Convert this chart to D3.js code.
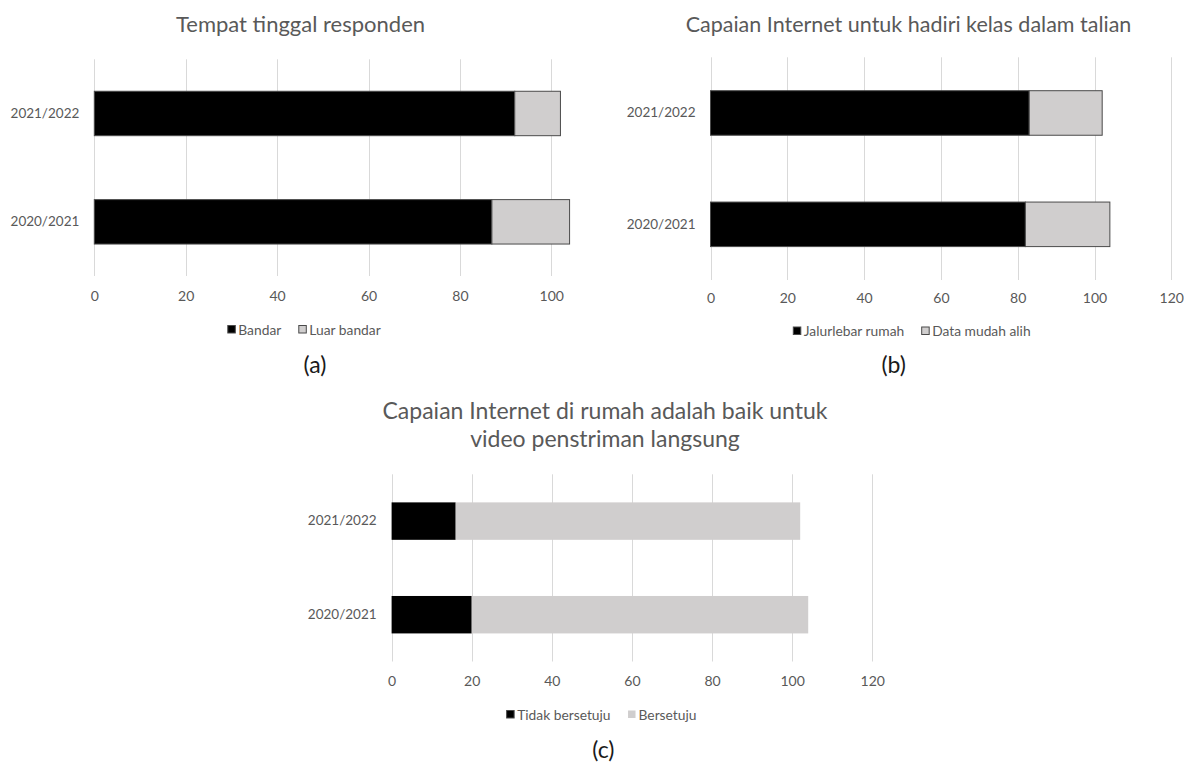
<!DOCTYPE html>
<html>
<head>
<meta charset="utf-8">
<script src="https://cdn.jsdelivr.net/npm/d3@7"></script>
<style>
  html, body { margin: 0; padding: 0; background: #fff; }
  svg { display: block; font-family: Lato, "Open Sans", sans-serif; }
</style>
</head>
<body>
<svg id="chart" width="1184" height="762"></svg>
<script>
// ---------------- data ----------------
const categories = ["2021/2022", "2020/2021"];

const titleA = ["Tempat tinggal responden"];
const seriesNamesA = ["Bandar", "Luar bandar"];
const bandar = [92, 87];
const luarBandar = [10, 17];
const ticksA = [0, 20, 40, 60, 80, 100];

const titleB = ["Capaian Internet untuk hadiri kelas dalam talian"];
const seriesNamesB = ["Jalurlebar rumah", "Data mudah alih"];
const jalurlebarRumah = [83, 82];
const dataMudahAlih = [19, 22];
const ticksB = [0, 20, 40, 60, 80, 100, 120];

const titleC = ["Capaian Internet di rumah adalah baik untuk", "video penstriman langsung"];
const seriesNamesC = ["Tidak bersetuju", "Bersetuju"];
const tidakBersetuju = [16, 20];
const bersetuju = [86, 84];
const ticksC = [0, 20, 40, 60, 80, 100, 120];

const captions = ["(a)", "(b)", "(c)"];

// ---------------- styles ----------------
const TEXT = "#595959";
const GRID = "#d9d9d9";
const FILLS = ["#000000", "#d0cece"];

const svg = d3.select("#chart");

function drawPanel(cfg) {
  const g = svg.append("g");
  const rows = categories.map((c, i) => ({ cat: c, s0: cfg.s0[i], s1: cfg.s1[i] }));
  const stacked = d3.stack().keys(["s0", "s1"])(rows);

  const x = d3.scaleLinear().domain([0, cfg.xMax]).range([cfg.xr0, cfg.xr1]);
  const y = d3.scaleBand().domain(categories).range([cfg.yr0, cfg.yr1])
    .paddingInner(cfg.padIn).paddingOuter(cfg.padOut);

  // title
  const t = g.append("text")
    .attr("text-anchor", "middle")
    .attr("fill", TEXT)
    .style("font-size", cfg.titleSize + "px");
  cfg.title.forEach((line, i) => {
    t.append("tspan").attr("x", cfg.titleX).attr("y", cfg.titleY + i * cfg.titleLH).text(line);
  });

  // gridlines
  g.append("g").selectAll("line").data(cfg.ticks).join("line")
    .attr("x1", d => Math.round(x(d)) + 0.5).attr("x2", d => Math.round(x(d)) + 0.5)
    .attr("y1", cfg.yr0).attr("y2", cfg.yr1)
    .attr("stroke", GRID).attr("stroke-width", 1);

  // x axis tick labels
  const xAxis = d3.axisBottom(x).tickValues(cfg.ticks).tickSize(0).tickPadding(0).tickFormat(d3.format("d"));
  const ax = g.append("g").attr("transform", `translate(0,${cfg.tickY})`).call(xAxis);
  ax.select(".domain").remove();
  ax.selectAll("text").attr("fill", TEXT).attr("dy", "0.35em").attr("y", 0)
    .style("font-size", "14px").style("font-family", "Lato, 'Open Sans', sans-serif");

  // y axis labels
  const yAxis = d3.axisLeft(y).tickSize(0).tickPadding(cfg.yPad);
  const ay = g.append("g").attr("transform", `translate(${cfg.xr0},0)`).call(yAxis);
  ay.select(".domain").remove();
  ay.selectAll("text").attr("fill", TEXT)
    .style("font-size", "13.5px").style("font-family", "Lato, 'Open Sans', sans-serif");

  // bars
  g.append("g").selectAll("g").data(stacked).join("g")
    .attr("fill", (d, i) => FILLS[i])
    .selectAll("rect").data(d => d).join("rect")
    .attr("x", d => x(d[0]))
    .attr("y", d => y(d.data.cat))
    .attr("width", d => x(d[1]) - x(d[0]))
    .attr("height", y.bandwidth())
    .attr("stroke", cfg.outline ? "#4a4a4a" : "none")
    .attr("stroke-width", cfg.outline ? 1 : 0);

  // legend
  const lg = g.append("g");
  let cx = 0;
  cfg.names.forEach((name, i) => {
    const it = lg.append("g").attr("transform", `translate(${cx},0)`);
    const sq = it.append("rect").attr("x", 0.5).attr("y", -4.5).attr("width", 7.5).attr("height", 7.5)
      .attr("fill", FILLS[i]);
    if (cfg.outline || i === 0) sq.attr("stroke", "#4a4a4a").attr("stroke-width", 1);
    const tx = it.append("text").attr("x", 11).attr("y", 0).attr("dy", "0.35em")
      .attr("fill", TEXT).style("font-size", "13.8px").text(name);
    const w = 11 + tx.node().getComputedTextLength();
    cx += w + 17;
  });
  const total = cx - 17;
  lg.attr("transform", `translate(${cfg.legendCX - total / 2},${cfg.legendY})`);

  // caption
  g.append("text").attr("x", cfg.capX).attr("y", cfg.capY).attr("dy", "0.35em")
    .attr("text-anchor", "middle").attr("fill", "#1a1a1a")
    .style("font-size", "23px").text(cfg.caption);
}

drawPanel({
  title: titleA, titleX: 300.5, titleY: 32, titleLH: 28, titleSize: 22,
  s0: bandar, s1: luarBandar, names: seriesNamesA, ticks: ticksA, xMax: 100,
  xr0: 94.3, xr1: 551.3, yr0: 59.3, yr1: 276, padIn: 0.59, padOut: 0.295,
  tickY: 296, yPad: 15, outline: true,
  legendCX: 304, legendY: 330, caption: captions[0], capX: 315, capY: 365
});

drawPanel({
  title: titleB, titleX: 908.5, titleY: 32, titleLH: 28, titleSize: 21.5,
  s0: jalurlebarRumah, s1: dataMudahAlih, names: seriesNamesB, ticks: ticksB, xMax: 120,
  xr0: 710.5, xr1: 1171.3, yr0: 57.3, yr1: 280, padIn: 0.6, padOut: 0.3,
  tickY: 298.5, yPad: 15, outline: true,
  legendCX: 911.7, legendY: 331.5, caption: captions[1], capX: 893.7, capY: 365
});

drawPanel({
  title: titleC, titleX: 605, titleY: 418.5, titleLH: 28.3, titleSize: 23,
  s0: tidakBersetuju, s1: bersetuju, names: seriesNamesC, ticks: ticksC, xMax: 120,
  xr0: 391.6, xr1: 872.3, yr0: 474.3, yr1: 661.5, padIn: 0.6, padOut: 0.3,
  tickY: 681.5, yPad: 15, outline: false,
  legendCX: 601.3, legendY: 715, caption: captions[2], capX: 603.4, capY: 750
});
</script>
</body>
</html>
